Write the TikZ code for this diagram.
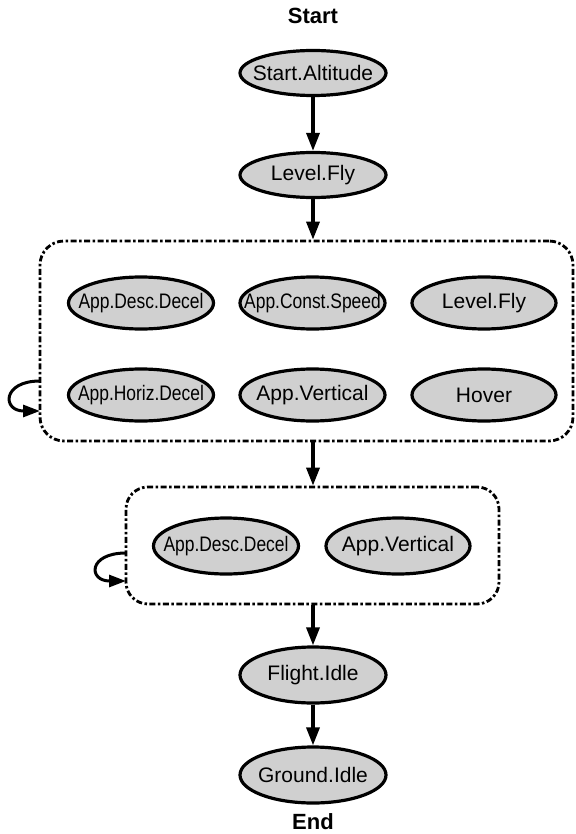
\documentclass[tikz,border=0pt]{standalone}
\usepackage{fontspec}
\setmainfont{Liberation Sans}
\usetikzlibrary{arrows.meta,shapes.geometric}
\definecolor{stfill}{RGB}{208,208,208}
\tikzset{
  st/.style={ellipse, draw=black, line width=3.2pt, fill=stfill, inner sep=0pt,
    minimum width=146pt, minimum height=50pt, font=\fontsize{21pt}{24pt}\selectfont},
  grp/.style={rectangle, draw=black, line width=2.8pt, rounded corners=24pt,
    dash pattern=on 6pt off 2.5pt on 2.5pt off 2.5pt, inner sep=0pt},
  arr/.style={line width=3.4pt, -{Triangle[length=18pt,width=13pt]}},
  loopar/.style={line width=3pt, -{Triangle[length=17pt,width=12pt]}},
  lbl/.style={font=\bfseries\fontsize{22pt}{24pt}\selectfont, inner sep=0pt},
}
\newcommand{\elab}[1]{\makebox[0pt]{#1}}
\newcommand{\cnd}[1]{\makebox[0pt]{\scalebox{0.83}[1]{#1}}}
\begin{document}
\begin{tikzpicture}[x=1pt,y=-1pt]
\useasboundingbox (0,0) rectangle (575,834);
% top
\node[lbl] (start) at (313,16) {Start};
\node[st, minimum height=45pt] (sa) at (313,73) {\elab{Start.Altitude}};
\node[st, minimum height=45pt] (lf) at (313,175) {\elab{Level.Fly}};
% group 1
\node[grp, minimum width=533pt, minimum height=200pt] (box1) at (306.5,341) {};
\node[st, minimum width=145pt, minimum height=52pt] (add1) at (141,303) {\cnd{App.Desc.Decel}};
\node[st, minimum width=145pt, minimum height=52pt] (acs) at (312.5,303) {\cnd{App.Const.Speed}};
\node[st, minimum width=144pt, minimum height=52pt] (lf2) at (484,303) {\elab{Level.Fly}};
\node[st, minimum width=145pt, minimum height=52pt] (ahd) at (141,395) {\cnd{App.Horiz.Decel}};
\node[st, minimum width=145pt, minimum height=52pt] (av1) at (312.5,395) {\elab{App.Vertical}};
\node[st, minimum width=144pt, minimum height=52pt] (hov) at (484,395) {\elab{Hover}};
\coordinate (l1a) at (40,381);
\coordinate (l1b) at (40,411);
% group 2
\node[grp, rounded corners=22pt, minimum width=373pt, minimum height=117pt] (box2) at (312.5,545.5) {};
\node[st, minimum width=145pt, minimum height=56pt] (add2) at (226,546) {\cnd{App.Desc.Decel}};
\node[st, minimum width=144pt, minimum height=56pt] (av2) at (398,546) {\elab{App.Vertical}};
\coordinate (l2a) at (126,553);
\coordinate (l2b) at (126,581);
% bottom
\node[st, minimum height=56pt] (fi) at (313,675) {\elab{Flight.Idle}};
\node[st, minimum height=56pt] (gi) at (313,775) {\elab{Ground.Idle}};
\node[lbl] (end) at (313,822) {End};
% connectors
\draw[arr] (sa) -- (lf);
\draw[arr] (lf.south) -- (lf.south |- box1.north);
\draw[arr] (box1.south -| lf.south) -- (box2.north -| lf.south);
\draw[arr] (box2.south -| fi.north) -- (fi.north);
\draw[arr] (fi) -- (gi);
\draw[loopar] (l1a) .. controls (2,381) and (2,411) .. (l1b);
\draw[loopar] (l2a) .. controls (88,553) and (88,581) .. (l2b);
\end{tikzpicture}
\end{document}
